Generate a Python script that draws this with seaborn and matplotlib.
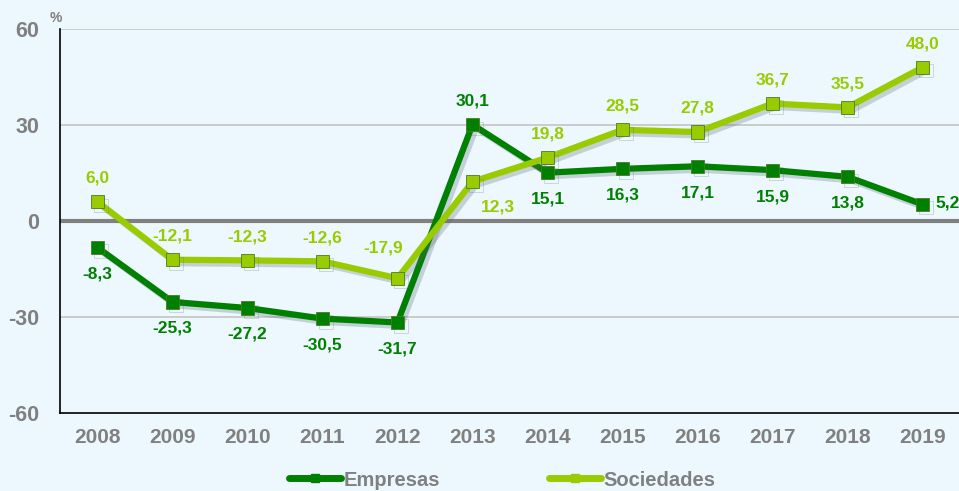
import matplotlib
matplotlib.use("Agg")
import matplotlib.pyplot as plt
import matplotlib.patheffects as pe
from matplotlib.lines import Line2D
import seaborn as sns
import pandas as pd

years = ["2008", "2009", "2010", "2011", "2012", "2013", "2014", "2015", "2016", "2017", "2018", "2019"]
empresas = [-8.3, -25.3, -27.2, -30.5, -31.7, 30.1, 15.1, 16.3, 17.1, 15.9, 13.8, 5.2]
sociedades = [6.0, -12.1, -12.3, -12.6, -17.9, 12.3, 19.8, 28.5, 27.8, 36.7, 35.5, 48.0]
yticks = [-60, -30, 0, 30, 60]

# label placement (offsets in points)
emp_off = [(0, -19), (0, -19), (0, -19), (0, -19), (0, -19), (0, 17), (0, -19), (0, -19), (0, -19), (0, -19), (0, -19), (9.5, 1)]
emp_ha = ["center"] * 11 + ["left"]
soc_off = [(0, 17), (0, 17), (0, 17), (0, 17), (-10, 22), (18, -18), (0, 17), (0, 17), (0, 17), (0, 17), (0, 17), (0, 17)]

BG = "#EDF8FE"
C_EMP = "#008000"
C_SOC = "#99CC00"
GRAY = "#808080"

sns.set_style("white")
plt.rcParams["font.family"] = ["Liberation Sans", "DejaVu Sans"]

df = pd.DataFrame({
    "x": list(range(len(years))) * 2,
    "value": empresas + sociedades,
    "serie": ["Empresas"] * len(years) + ["Sociedades"] * len(years),
})

fig = plt.figure(figsize=(9.59, 4.91), dpi=100, facecolor=BG)
ax = fig.add_axes([60 / 959, 78 / 491, 900 / 959, 384 / 491])
ax.set_facecolor(BG)

for v in [-30, 30, 60]:
    ax.axhline(v, color="#C4C4C4", lw=1.2, zorder=0)
ax.axhline(0, color="#808080", lw=3, zorder=1)

shadow = [pe.SimpleLineShadow(offset=(2.5, -2.5), shadow_color="#5a6a7a", alpha=0.28), pe.Normal()]
sns.lineplot(data=df, x="x", y="value", hue="serie", palette={"Empresas": C_EMP, "Sociedades": C_SOC},
             marker="s", markersize=9.5, lw=4.5, markeredgewidth=0.6,
             ax=ax, legend=False, zorder=3)
for line in ax.get_lines()[-2:]:
    line.set_path_effects(shadow)
    line.set_markeredgecolor("#4d7a20")

fs_lab = 12.5
for i, (v, off, ha) in enumerate(zip(empresas, emp_off, emp_ha)):
    ax.annotate(f"{v:.1f}".replace(".", ","), (i, v), xytext=off, textcoords="offset points",
                ha=ha, va="center", color=C_EMP, fontsize=fs_lab, fontweight="bold")
for i, (v, off) in enumerate(zip(sociedades, soc_off)):
    ax.annotate(f"{v:.1f}".replace(".", ","), (i, v), xytext=off, textcoords="offset points",
                ha="center", va="center", color=C_SOC, fontsize=fs_lab, fontweight="bold")

ax.set_xlim(-0.5, len(years) - 0.5)
ax.set_ylim(-60, 60)
ax.set_yticks(yticks)
ax.set_yticklabels([str(t) for t in yticks], color=GRAY, fontsize=15.5, fontweight="bold")
ax.set_xticks(range(len(years)))
ax.set_xticklabels(years, color=GRAY, fontsize=15, fontweight="bold")
ax.set_xticks([i - 0.5 for i in range(len(years) + 1)], minor=True)
ax.tick_params(axis="x", which="major", length=0, pad=11)
ax.tick_params(axis="x", which="minor", length=5, width=1.2, color="black", direction="out")
ax.tick_params(axis="y", length=0, pad=15)
ax.set_xlabel("")
ax.set_ylabel("")
for s in ["top", "right"]:
    ax.spines[s].set_visible(False)
for s in ["left", "bottom"]:
    ax.spines[s].set_color("black")
    ax.spines[s].set_linewidth(1.2)

fig.text(56 / 959, 1 - 18 / 491, "%", ha="center", va="center", color=GRAY, fontsize=10, fontweight="bold")

handles = [Line2D([0], [0], color=C_EMP, lw=5, marker="s", markersize=6),
           Line2D([0], [0], color=C_SOC, lw=5, marker="s", markersize=6)]
leg = fig.legend(handles, ["Empresas", "Sociedades"], loc="center", bbox_to_anchor=(502 / 959, 1 - 480 / 491),
                 ncol=2, frameon=False, columnspacing=5.4, handlelength=2.6, handletextpad=0.12,
                 prop={"size": 14.5, "weight": "bold"})
for t in leg.get_texts():
    t.set_color(GRAY)

fig.savefig("out.png", dpi=100, facecolor=BG)
